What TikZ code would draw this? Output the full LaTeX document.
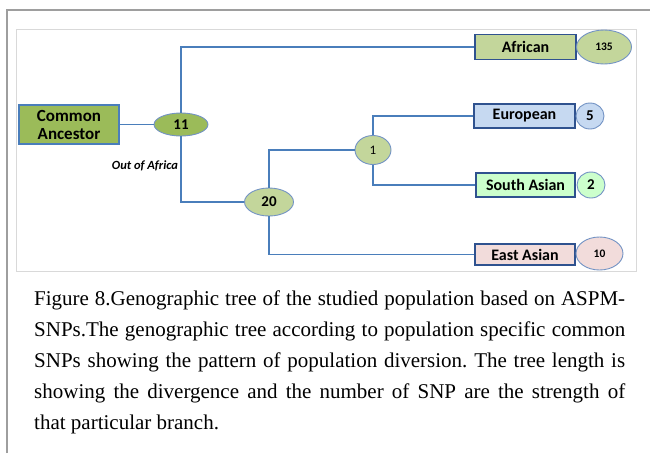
\documentclass[tikz,border=0pt]{standalone}
\usepackage{fontspec}
\setmainfont{Liberation Serif}
\newfontfamily\carlitofont{Carlito}
\usetikzlibrary{shapes.geometric}
\definecolor{conn}{HTML}{4A7EBB}
\definecolor{boxline}{HTML}{2F528F}
\definecolor{ellline}{HTML}{7393C4}
\definecolor{olive}{HTML}{9BBB59}
\definecolor{lolive}{HTML}{C3D69B}
\definecolor{lblue}{HTML}{C6D9F1}
\definecolor{lgreen}{HTML}{CCFFCC}
\definecolor{lpink}{HTML}{F2DCDB}
\tikzset{
  popbox/.style={draw=boxline, line width=1.4pt, rectangle, inner sep=0pt, font=\carlitofont\bfseries\fontsize{16}{18}\selectfont},
  numell/.style={draw=ellline, line width=0.9pt, ellipse, inner sep=0pt, font=\carlitofont\bfseries\fontsize{15}{17}\selectfont},
  conline/.style={draw=conn, line width=1.3pt},
}
\begin{document}
\frenchspacing
\begin{tikzpicture}[x=1pt,y=-1pt]
\useasboundingbox (0,0) rectangle (650,453);
% frames
\draw[color=black!38, line width=1.3pt] (7,453) -- (7,10) -- (650,10);
\draw[color=black!15, line width=0.8pt] (16,29) rectangle (636,271);
% nodes
\node[popbox, fill=olive, draw=conn, line width=2.4pt, minimum width=100pt, minimum height=39pt, align=center,
  font=\carlitofont\bfseries\fontsize{17}{18}\selectfont] (ca) at (69,124.5) {Common\\Ancestor};
\node[numell, fill=olive, minimum width=54pt, minimum height=23pt] (n11) at (181,124.5) {11};
\node[numell, fill=lolive, minimum width=49pt, minimum height=28pt] (n20) at (269,202) {20};
\node[numell, fill=lolive, minimum width=36pt, minimum height=29pt, font=\carlitofont\fontsize{13}{15}\selectfont] (n1) at (373,150) {1};
\node[popbox, fill=lolive, minimum width=101pt, minimum height=25pt] (afr) at (525.5,47) {African};
\node[numell, fill=lolive, minimum width=55pt, minimum height=34pt, font=\carlitofont\bfseries\fontsize{11.5}{13}\selectfont] (c135) at (604,47) {135};
\node[popbox, fill=lblue, minimum width=101pt, minimum height=24pt] (eur) at (524.5,116) {European};
\node[numell, fill=lblue, minimum width=28pt, minimum height=26pt] (c5) at (590,116) {5};
\node[popbox, fill=lgreen, minimum width=99pt, minimum height=24pt] (sas) at (525.5,185) {South Asian};
\node[numell, fill=lgreen, minimum width=28pt, minimum height=26pt] (c2) at (591,185) {2};
\node[popbox, fill=lpink, minimum width=100pt, minimum height=21pt] (eas) at (525,254.5) {East Asian};
\node[numell, fill=lpink, minimum width=47pt, minimum height=33pt, font=\carlitofont\bfseries\fontsize{11.5}{13}\selectfont] (c10) at (599.5,253.5) {10};
\node[font=\carlitofont\bfseries\itshape\fontsize{12.5}{14}\selectfont, inner sep=0pt] (ooa) at (145,166) {Out of Africa};
% connectors
\draw[conline] (ca.east) -- (n11.west);
\draw[conline] (n11.north) |- (afr.west);
\draw[conline] (n11.south) |- (n20.west);
\draw[conline] (n20.north) |- (n1.west);
\draw[conline] (n1.north) |- (eur.west);
\draw[conline] (n1.south) |- (sas.west);
\draw[conline] (n20.south) |- (eas.west);
% caption
\node[anchor=north west, inner sep=0pt, align=left, font=\fontsize{21}{31}\selectfont] (cap) at (34,291) {%
\makebox[591pt][s]{Figure 8.Genographic tree of the studied population based on ASPM-}\\
\makebox[591pt][s]{SNPs.The genographic tree according to population specific common}\\
\makebox[591pt][s]{SNPs showing the pattern of population diversion. The tree length is}\\
\makebox[591pt][s]{showing the divergence and the number of SNP are the strength of}\\
that particular branch.};
\end{tikzpicture}
\end{document}
